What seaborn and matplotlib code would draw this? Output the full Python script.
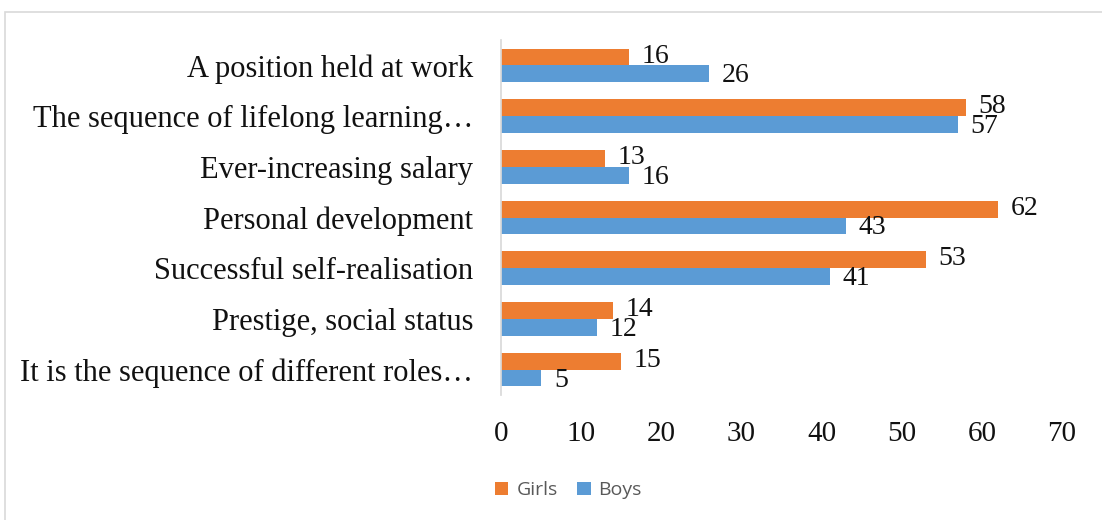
import matplotlib
matplotlib.use("Agg")
import matplotlib.pyplot as plt
import seaborn as sns
import pandas as pd
from matplotlib.patches import Rectangle

categories = [
    "A position held at work",
    "The sequence of lifelong learning\u2026",
    "Ever-increasing salary",
    "Personal development",
    "Successful self-realisation",
    "Prestige, social status",
    "It is the sequence of different roles\u2026",
]
girls = [16, 58, 13, 62, 53, 14, 15]
boys = [26, 57, 16, 43, 41, 12, 5]
series = ["Girls", "Boys"]
colors = ["#ED7D31", "#5B9BD5"]

df = pd.DataFrame({
    "category": categories * 2,
    "value": girls + boys,
    "group": ["Girls"] * len(girls) + ["Boys"] * len(boys),
})

sns.set_theme(style="white")
plt.rcParams["font.family"] = ["Liberation Serif", "DejaVu Serif"]

fig = plt.figure(figsize=(11.02, 5.2), dpi=100)
ax = fig.add_axes([0.4546, 0.2404, 0.5091, 0.6826])

sns.barplot(data=df, y="category", x="value", hue="group", hue_order=series,
            palette=colors, orient="h", width=0.66, saturation=1,
            linewidth=0, ax=ax, legend=True)

# value labels, girls nudged up a little and boys down, like the original
for cont, vals, dy in zip(ax.containers, [girls, boys], [-0.02, 0.04]):
    for bar, v in zip(cont, vals):
        ax.text(bar.get_width() + 1.6, bar.get_y() + bar.get_height() / 2 + dy, str(v),
                va="center", ha="left", fontsize=20, color="#111111")

ax.set_xlim(0, 70)
ax.set_xticks(range(0, 71, 10))
ax.set_xlabel("")
ax.set_ylabel("")
ax.tick_params(axis="x", labelsize=21, colors="#111111", length=0, pad=19)
ax.tick_params(axis="y", labelsize=22, colors="#111111", length=0, pad=20)
for s in ["top", "right", "bottom"]:
    ax.spines[s].set_visible(False)
ax.spines["left"].set_color("#D9D9D9")

leg = ax.legend(loc="center", bbox_to_anchor=(0.12, -0.268), ncol=2, frameon=False,
                handlelength=0.7, handleheight=0.7, handletextpad=0.4, columnspacing=1.0,
                prop={"family": "Open Sans", "size": 14})
for t in leg.get_texts():
    t.set_color("#595959")

fig.patches.append(Rectangle((5 / 1102, -0.05), 1.05, 1 - 12 / 520 + 0.05,
                             transform=fig.transFigure, fill=False,
                             edgecolor="#D9D9D9", linewidth=1.2))

fig.savefig("out.png", dpi=100)
